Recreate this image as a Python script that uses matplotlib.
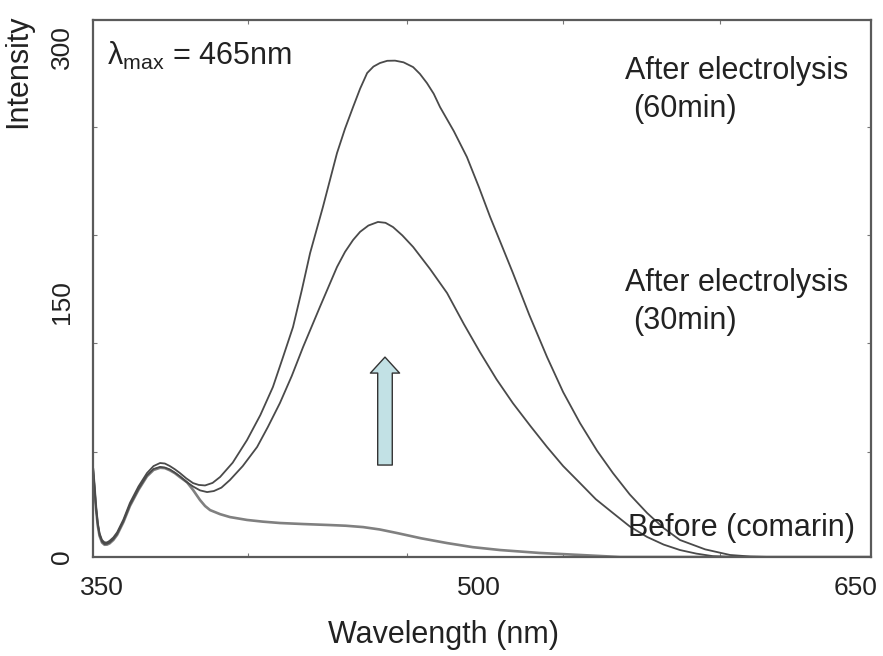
import numpy as np
import matplotlib
matplotlib.use("Agg")
import matplotlib.pyplot as plt

plt.rcParams["font.family"] = ["Liberation Sans", "DejaVu Sans"]
plt.rcParams["mathtext.fontset"] = "custom"
plt.rcParams["mathtext.rm"] = "Liberation Sans"

# emission spectra (wavelength in nm, intensity a.u.)
wl_60 = [346.4, 347.0, 347.6, 348.3, 349.0, 350.0, 351.0, 352.0, 353.0, 354.5,
         356.0, 358.5, 361.1, 364.5, 367.9, 370.5, 373.1, 375.0, 377.0, 379.0,
         381.0, 383.5, 386.2, 388.5, 391.0, 394.0, 397.0, 402.0, 407.7, 413.0,
         418.0, 422.0, 426.0, 429.5, 432.8, 437.9, 443.5, 446.7, 449.9, 452.7,
         455.5, 458.0, 460.6, 463.5, 466.6, 470.0, 473.8, 476.5, 479.3, 482.0,
         484.5, 490.0, 495.2, 500.0, 504.4, 509.0, 513.5, 520.0, 527.1, 533.5,
         540.2, 547.0, 553.3, 560.0, 566.9, 573.5, 580.0, 590.0, 599.9, 608.0,
         615.8, 656.0]
int_60 = [52.9, 42.0, 30.0, 20.0, 14.0, 10.0, 8.6, 8.6, 9.5, 11.5,
          14.5, 22.0, 31.8, 41.5, 49.4, 53.5, 55.3, 55.0, 53.5, 51.6,
          49.4, 46.3, 43.5, 42.4, 42.1, 43.6, 47.1, 55.5, 68.8, 83.5,
          100.0, 117.5, 135.3, 157.0, 178.8, 205.9, 237.6, 252.0, 264.7, 275.5,
          284.7, 288.5, 290.6, 291.9, 292.0, 291.0, 288.2, 284.2, 278.8, 272.5,
          264.7, 250.5, 235.3, 217.5, 200.2, 183.5, 167.1, 142.5, 117.6, 97.0,
          78.8, 62.5, 49.4, 36.8, 25.9, 17.0, 10.0, 4.5, 1.2, 0.3,
          0.0, 0.0]

wl_30 = [346.4, 347.0, 347.6, 348.3, 349.0, 350.0, 351.0, 352.0, 353.0, 354.5,
         356.0, 358.5, 361.1, 364.5, 367.9, 370.5, 373.1, 375.0, 377.0, 379.0,
         381.0, 383.5, 386.2, 389.0, 391.8, 394.5, 397.5, 400.9, 406.0, 411.7,
         416.0, 420.8, 425.5, 430.0, 436.7, 443.5, 446.7, 449.9, 452.7, 456.0,
         459.8, 462.8, 465.8, 469.5, 473.8, 480.5, 487.3, 494.0, 500.4, 507.0,
         513.5, 520.5, 527.1, 533.5, 540.2, 546.5, 553.3, 560.0, 566.9, 573.5,
         580.0, 586.5, 593.1, 600.0, 610.0, 656.0]
int_30 = [52.0, 41.0, 29.0, 19.0, 13.0, 9.0, 7.6, 7.8, 8.5, 10.5,
          13.5, 21.0, 30.5, 40.0, 48.0, 51.8, 53.0, 52.6, 51.5, 49.6,
          47.5, 44.3, 41.5, 39.2, 38.2, 38.8, 40.8, 45.3, 53.5, 64.7,
          76.5, 90.6, 106.5, 123.5, 147.1, 170.6, 179.5, 186.5, 191.3, 195.0,
          197.1, 196.6, 194.1, 189.2, 182.4, 169.5, 155.3, 137.0, 120.5, 104.5,
          90.5, 77.0, 64.7, 53.5, 43.5, 34.0, 25.9, 18.0, 11.8, 7.3,
          4.1, 2.0, 0.5, 0.1, 0.0, 0.0]

wl_0 = [346.4, 347.0, 347.6, 348.3, 349.0, 350.0, 351.0, 352.0, 353.0, 354.5,
        356.0, 358.5, 361.1, 364.5, 367.9, 370.5, 373.1, 375.0, 377.0, 379.0,
        381.0, 383.8, 386.2, 389.0, 391.0, 393.0, 397.0, 400.9, 407.7, 414.0,
        420.8, 430.0, 440.7, 447.0, 453.9, 460.5, 467.4, 477.0, 487.3, 497.5,
        508.4, 524.0, 540.2, 556.1, 656.0]
int_0 = [51.5, 40.5, 28.5, 18.5, 12.5, 8.5, 7.2, 7.3, 8.0, 10.0,
         13.0, 20.5, 30.0, 39.5, 47.5, 51.2, 52.5, 52.3, 51.0, 49.3,
         47.0, 44.0, 39.5, 33.5, 30.0, 27.6, 25.2, 23.5, 21.8, 20.8,
         20.0, 19.4, 18.8, 18.4, 17.6, 16.2, 14.1, 11.0, 8.2, 5.8,
         4.1, 2.4, 1.2, 0.0, 0.0]

x_ticks = [350, 500, 650]
y_ticks = [0, 150, 300]
x_minor = [408.1, 471.4, 533.4, 595.9]
y_minor = [61.8, 125.9, 189.4, 252.9]

fig = plt.figure(figsize=(8.83, 6.56), dpi=100)
ax = fig.add_axes([0.1053, 0.1509, 0.8811, 0.8186])

ax.plot(wl_0, int_0, color="#808080", linewidth=1.9)
ax.plot(wl_30, int_30, color="#4a4a4a", linewidth=1.3)
ax.plot(wl_60, int_60, color="#4a4a4a", linewidth=1.3)

ax.set_xlim(346.4, 656.0)
ax.set_ylim(0, 315.9)

ax.set_xticks(x_ticks)
ax.set_yticks(y_ticks)
ax.set_xticks(x_minor, minor=True)
ax.set_yticks(y_minor, minor=True)
ax.tick_params(which="major", length=0, labelsize=19, labelcolor="#222222")
ax.tick_params(axis="x", which="major", pad=14)
ax.tick_params(axis="y", which="major", pad=14)
ax.tick_params(which="minor", direction="in", length=3, width=0.8, color="#777777",
               top=True, right=True)
for lab in ax.get_yticklabels():
    lab.set_rotation(90)
    lab.set_va("center")

for sp in ax.spines.values():
    sp.set_color("#5a5a5a")
    sp.set_linewidth(1.6)

fig.text(0.5017, 0.032, "Wavelength (nm)", fontsize=22, color="#222222",
         ha="center", va="center")
fig.text(0.0204, 0.8918, "Intensity", fontsize=22, color="#222222",
         ha="center", va="center", rotation=90)

ax.text(352.0, 289.4, r"λ$_{\mathrm{max}}$ = 465nm", fontsize=22, color="#222222",
        va="baseline")
ax.text(558.1, 281.2, "After electrolysis", fontsize=22, color="#222222", va="baseline")
ax.text(561.3, 258.8, "(60min)", fontsize=22, color="#222222", va="baseline")
ax.text(558.1, 156.5, "After electrolysis", fontsize=22, color="#222222", va="baseline")
ax.text(561.3, 134.1, "(30min)", fontsize=22, color="#222222", va="baseline")
ax.text(559.3, 12.1, "Before (comarin)", fontsize=22, color="#222222", va="baseline")

# arrow showing intensity increase with electrolysis time
ax.annotate("", xy=(462.6, 117.6), xytext=(462.6, 54.1),
            arrowprops=dict(arrowstyle="simple, head_length=1.15, head_width=2.1, tail_width=1.05",
                            fc="#c2e1e5", ec="#333333", lw=1.0,
                            shrinkA=0, shrinkB=0, mutation_scale=10))

fig.savefig("out.png", dpi=100)
